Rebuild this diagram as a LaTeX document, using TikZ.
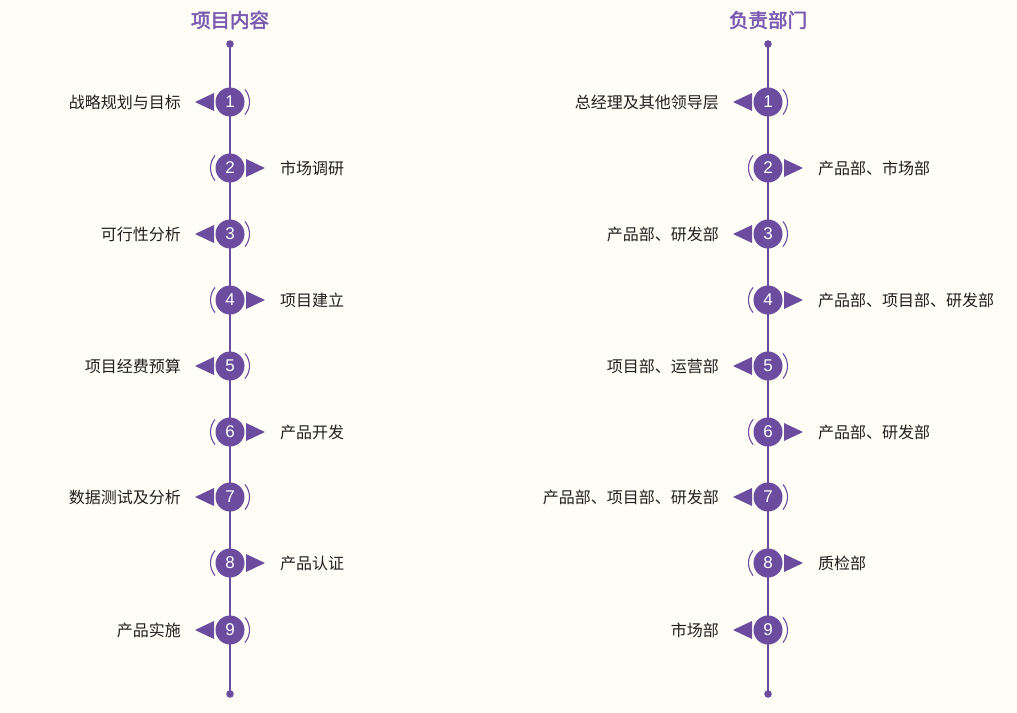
\documentclass[tikz,border=0pt]{standalone}
\usepackage{fontspec}
\usetikzlibrary{calc}
\newfontfamily\cjk{Noto Sans CJK SC}
\newfontfamily\cjkb{Noto Sans CJK SC}[FakeBold=2.5]
\newfontfamily\numfont{Liberation Sans}
\definecolor{bg}{HTML}{FFFEF6}
\definecolor{pur}{HTML}{6C4C9E}
\definecolor{tpur}{HTML}{7A5AB0}
\begin{document}
\begin{tikzpicture}[x=1pt,y=-1pt,
  numc/.style={circle,fill=pur,minimum size=29pt,inner sep=0pt,text=white,font=\numfont\fontsize{17}{17}\selectfont},
  lbl/.style={font=\cjk\fontsize{16}{16}\selectfont,text=black!88,inner sep=0pt},
  ttl/.style={font=\cjkb\fontsize{19.5}{19.5}\selectfont,text=tpur},
  axis/.style={draw=pur,line width=1.8pt},
  paren/.style={draw=pur,line width=1.1pt},
  tri/.style={fill=pur}]
\fill[bg] (0,0) rectangle (1017,712);
\useasboundingbox (0,0) rectangle (1017,712);
\node[ttl] (t1) at (230,20) {项目内容};
\node[ttl] (t2) at (768,20) {负责部门};
\foreach \cx/\nm in {230/L,768/R}{
  \coordinate (top\nm) at (\cx,44);
  \coordinate (bot\nm) at (\cx,694);
  \draw[axis] (top\nm) -- (bot\nm);
  \fill[pur] (top\nm) circle (3.8);
  \fill[pur] (bot\nm) circle (3.8);
}
\foreach \i/\y/\s/\la/\lb in {
  1/102/-1/战略规划与目标/总经理及其他领导层,
  2/168/1/市场调研/{产品部、市场部},
  3/234/-1/可行性分析/{产品部、研发部},
  4/300/1/项目建立/{产品部、项目部、研发部},
  5/366/-1/项目经费预算/{项目部、运营部},
  6/432/1/产品开发/{产品部、研发部},
  7/497/-1/数据测试及分析/{产品部、项目部、研发部},
  8/563/1/产品认证/质检部,
  9/630/-1/产品实施/市场部}{
  \foreach \cx/\nm/\txt in {230/L/\la,768/R/\lb}{
    \node[numc] (n\nm\i) at (\cx,\y) {\i};
    \fill[tri] ($(n\nm\i.center)+(\s*16,-9)$) -- ($(n\nm\i.center)+(\s*35,0)$) -- ($(n\nm\i.center)+(\s*16,9)$) -- cycle;
    \ifnum\s<0
      \draw[paren] ($(n\nm\i.center)+(-40:19.5)$) arc (-40:40:19.5);
      \node[lbl,anchor=east] (lab\nm\i) at ($(n\nm\i.center)+(-49,0)$) {\txt};
    \else
      \draw[paren] ($(n\nm\i.center)+(140:19.5)$) arc (140:220:19.5);
      \node[lbl,anchor=west] (lab\nm\i) at ($(n\nm\i.center)+(50,0)$) {\txt};
    \fi
  }
}
\end{tikzpicture}
\end{document}
